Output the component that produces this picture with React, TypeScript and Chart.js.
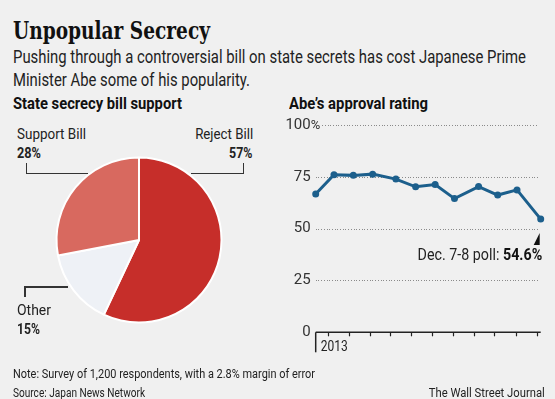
import React, { useEffect, useLayoutEffect, useRef } from "react";
import { Chart, registerables } from "chart.js";

Chart.register(...registerables);

// ---- data ----
const pieLabels = ["Reject Bill", "Other", "Support Bill"];
const pieValues = [57, 15, 28];
const pieColors = ["#c62e2a", "#eef1f6", "#d8695f"];

// poll positions in months from axis start (axis start ≈ mid-Dec 2012)
const pollPositions = [0, 0.88, 1.81, 2.74, 3.86, 4.81, 5.75, 6.68, 7.84, 8.76, 9.69, 10.83];
const approvalValues = [66.7, 76.0, 75.7, 76.3, 73.9, 70.2, 71.3, 64.5, 70.3, 66.2, 68.7, 54.6];
const monthTickPositions = [0.61, 1.6, 2.6, 3.6, 4.6, 5.6, 6.6, 7.6, 8.6, 9.62, 10.63];
const yTickValues = [0, 25, 50, 75, 100];
const yTickLabels = ["0", "25", "50", "75", "100"];
const yearLabel = "2013";
const lastPollLabel = "Dec. 7-8 poll:";
const lastPollValue = "54.6%";

const SANS = 'Roboto, "DejaVu Sans", sans-serif';
const SERIF = '"DejaVu Serif", serif';
const BG = "#f0f0f0";
const LINE = "#1c5f8c";

const axisPlugin = {
  id: "wsjAxes",
  beforeDatasetsDraw(chart: any) {
    const { ctx, scales } = chart;
    const x = scales.x;
    const y = scales.y;
    const labelRight = x.left - 5;
    const gridRight = x.right - 2.5;
    ctx.save();
    ctx.textBaseline = "middle";
    yTickValues.forEach((v, i) => {
      const py = y.getPixelForValue(v);
      ctx.fillStyle = "#333";
      ctx.textAlign = "right";
      ctx.font = `15px ${SANS}`;
      ctx.fillText(yTickLabels[i], labelRight, py);
      let gx = x.left;
      if (v === 100) {
        ctx.textAlign = "left";
        ctx.font = `13px ${SANS}`;
        ctx.fillText("%", labelRight, py + 0.5);
        gx = labelRight + ctx.measureText("%").width + 2;
      }
      if (v > 0) {
        ctx.fillStyle = "#8a8a8a";
        for (let px = gx; px < gridRight; px += 2.7) {
          ctx.fillRect(Math.round(px), Math.round(py), 1, 1);
        }
      }
    });
    // x axis
    const ay = y.getPixelForValue(0);
    ctx.strokeStyle = "#222";
    ctx.lineWidth = 1.5;
    ctx.beginPath();
    ctx.moveTo(x.left, ay);
    ctx.lineTo(x.right, ay);
    ctx.stroke();
    ctx.lineWidth = 1.2;
    monthTickPositions.forEach((m) => {
      const px = Math.round(x.getPixelForValue(m)) + 0.5;
      ctx.beginPath();
      ctx.moveTo(px, ay);
      ctx.lineTo(px, ay + 4);
      ctx.stroke();
    });
    ctx.lineWidth = 1.5;
    ctx.beginPath();
    ctx.moveTo(x.left, ay);
    ctx.lineTo(x.left, ay + 20);
    ctx.stroke();
    ctx.fillStyle = "#222";
    ctx.textAlign = "left";
    ctx.font = `14px ${SANS}`;
    ctx.fillText(yearLabel, x.left + 5, ay + 15.5, 27);
    ctx.restore();
  },
  afterDatasetsDraw(chart: any) {
    const { ctx, scales } = chart;
    const x = scales.x;
    const y = scales.y;
    const n = pollPositions.length - 1;
    const px = x.getPixelForValue(pollPositions[n]);
    const py = y.getPixelForValue(approvalValues[n]);
    ctx.save();
    ctx.fillStyle = "#111";
    ctx.beginPath();
    ctx.moveTo(px - 1, py + 14);
    ctx.lineTo(px - 1, py + 26);
    ctx.lineTo(px - 7, py + 26);
    ctx.closePath();
    ctx.fill();
    // text, compressed horizontally to match the narrow reference face
    ctx.textBaseline = "middle";
    ctx.textAlign = "right";
    ctx.font = `bold 16px ${SANS}`;
    const bw = ctx.measureText(lastPollValue).width;
    ctx.font = `16px ${SANS}`;
    const lw = ctx.measureText(lastPollLabel).width;
    const gap = 4;
    const s = 124.6 / (bw + gap + lw);
    const right = px + 1.5;
    const ty = py + 37;
    ctx.translate(right, ty);
    ctx.scale(s, 1);
    ctx.font = `bold 16px ${SANS}`;
    ctx.fillStyle = "#111";
    ctx.fillText(lastPollValue, 0, 0);
    ctx.font = `16px ${SANS}`;
    ctx.fillStyle = "#222";
    ctx.fillText(lastPollLabel, -bw - gap, 0);
    ctx.restore();
  },
};

function PieChart() {
  const ref = useRef<HTMLCanvasElement>(null);
  useEffect(() => {
    const chart = new Chart(ref.current!, {
      type: "pie",
      data: {
        labels: pieLabels,
        datasets: [
          {
            data: pieValues,
            backgroundColor: pieColors,
            borderColor: "#ffffff",
            borderWidth: 2,
          },
        ],
      },
      options: {
        responsive: false,
        animation: false,
        radius: 82.5,
        layout: { padding: 0 },
        plugins: { legend: { display: false }, tooltip: { enabled: false } },
      },
    });
    return () => chart.destroy();
  }, []);
  return (
    <canvas
      ref={ref}
      width={180}
      height={180}
      style={{ position: "absolute", left: 49, top: 150, width: 180, height: 180 }}
    />
  );
}

function LineChart() {
  const ref = useRef<HTMLCanvasElement>(null);
  useEffect(() => {
    const chart = new Chart(ref.current!, {
      type: "line",
      data: {
        datasets: [
          {
            data: pollPositions.map((p, i) => ({ x: p, y: approvalValues[i] })),
            borderColor: LINE,
            backgroundColor: LINE,
            borderWidth: 3,
            pointRadius: 3.5,
            pointBorderWidth: 0,
            pointBackgroundColor: LINE,
            tension: 0,
            clip: false as any,
          },
        ],
      },
      options: {
        responsive: false,
        animation: false,
        layout: { padding: { left: 35.7, right: 14.3, top: 25, bottom: 37.7 } },
        scales: {
          x: { type: "linear", min: 0, max: 10.83, display: false },
          y: { type: "linear", min: 0, max: 100, display: false },
        },
        plugins: { legend: { display: false }, tooltip: { enabled: false } },
      },
      plugins: [axisPlugin],
    });
    return () => chart.destroy();
  }, []);
  return (
    <canvas
      ref={ref}
      width={275}
      height={270}
      style={{ position: "absolute", left: 280, top: 100, width: 275, height: 270 }}
    />
  );
}

// text placed by cap-centre y, fitted horizontally to a target width
const T = (props: {
  x: number;
  y: number;
  size: number;
  w?: number;
  bold?: boolean;
  right?: boolean;
  family?: string;
  color?: string;
  children: React.ReactNode;
}) => {
  const ref = useRef<HTMLDivElement>(null);
  useLayoutEffect(() => {
    const el = ref.current!;
    el.style.transform = "none";
    const nat = el.getBoundingClientRect().width;
    if (props.w && nat > 0) el.style.transform = `scaleX(${props.w / nat})`;
  }, [props.w]);
  return (
    <div
      ref={ref}
      style={{
        position: "absolute",
        top: props.y - props.size / 2,
        ...(props.right
          ? { right: 555 - props.x, textAlign: "right" as const, transformOrigin: "right center" }
          : { left: props.x, transformOrigin: "left center" }),
        fontSize: props.size,
        lineHeight: `${props.size}px`,
        fontWeight: props.bold ? 700 : 400,
        fontFamily: props.family || SANS,
        color: props.color || "#222",
        whiteSpace: "nowrap",
      }}
    >
      {props.children}
    </div>
  );
};

const Line = (p: { x: number; y: number; w: number; h: number }) => (
  <div style={{ position: "absolute", left: p.x, top: p.y, width: p.w, height: p.h, background: "#333" }} />
);

export default function App() {
  return (
    <div
      style={{
        position: "absolute",
        left: 0,
        top: 0,
        width: 555,
        height: 399,
        background: BG,
        overflow: "hidden",
        fontFamily: SANS,
      }}
    >
      <T x={12.5} y={30} size={25} w={197} bold family={SERIF} color="#111">
        Unpopular Secrecy
      </T>
      <T x={12.5} y={57} size={18} w={513}>
        Pushing through a controversial bill on state secrets has cost Japanese Prime
      </T>
      <T x={12.5} y={79.5} size={18} w={237}>
        Minister Abe some of his popularity.
      </T>
      <T x={12.5} y={103} size={17} w={169} bold color="#111">
        State secrecy bill support
      </T>
      <T x={289} y={103} size={17} w={139} bold color="#111">
        Abe’s approval rating
      </T>

      <PieChart />
      <T x={17.3} y={134.3} size={14} w={69}>Support Bill</T>
      <T x={17.3} y={152.8} size={14} w={24} bold>28%</T>
      <T x={252.7} y={134.3} size={14} w={58} right>Reject Bill</T>
      <T x={252.7} y={152.8} size={14} w={23.4} bold right>57%</T>
      <T x={17.3} y={310} size={14} w={34}>Other</T>
      <T x={17.3} y={328.7} size={14} w={23} bold>15%</T>
      <Line x={25.5} y={163} w={1.5} h={11} />
      <Line x={25.5} y={172.5} w={62} h={1.5} />
      <Line x={191} y={172.5} w={53} h={1.5} />
      <Line x={242.5} y={163} w={1.5} h={11} />
      <Line x={24} y={286} w={44} h={1.5} />
      <Line x={24} y={286} w={1.5} h={11} />

      <LineChart />

      <T x={12.5} y={373.5} size={12} w={302}>
        Note: Survey of 1,200 respondents, with a 2.8% margin of error
      </T>
      <T x={12.5} y={393} size={12} w={132}>
        Source: Japan News Network
      </T>
      <T x={545} y={393} size={12} w={116} right>
        The Wall Street Journal
      </T>
    </div>
  );
}
